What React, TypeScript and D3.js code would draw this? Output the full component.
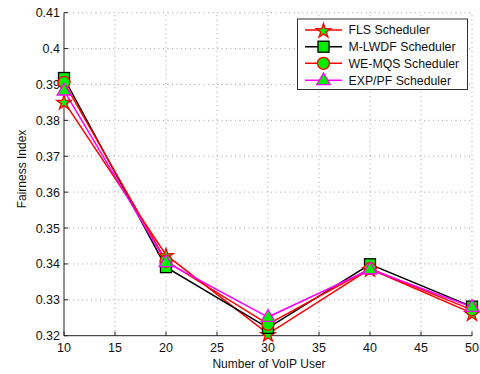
import React from "react";
import * as d3 from "d3";

const users = [10, 20, 30, 40, 50];
const flsValues = [0.3852, 0.3425, 0.3205, 0.3386, 0.3263];
const mlwdfValues = [0.3918, 0.3391, 0.3222, 0.3399, 0.3281];
const wemqsValues = [0.3906, 0.3408, 0.3232, 0.3387, 0.3272];
const exppfValues = [0.3883, 0.3405, 0.3252, 0.3385, 0.328];
const seriesNames = ["FLS Scheduler", "M-LWDF Scheduler", "WE-MQS Scheduler", "EXP/PF Scheduler"];
const xTicks = [10, 15, 20, 25, 30, 35, 40, 45, 50];
const yTicks = [0.32, 0.33, 0.34, 0.35, 0.36, 0.37, 0.38, 0.39, 0.4, 0.41];

const W = 480, H = 374;
const L = 64, R = 472, T = 12.7, B = 335.7;
const FONT = "'Liberation Sans', Arial, sans-serif";

type Kind = "star" | "square" | "circle" | "triangle";
const styles: { line: string; kind: Kind; stroke: string }[] = [
  { line: "#ff0000", kind: "star", stroke: "#ff0000" },
  { line: "#000000", kind: "square", stroke: "#000000" },
  { line: "#ff0000", kind: "circle", stroke: "#ff0000" },
  { line: "#ff00ff", kind: "triangle", stroke: "#ff00ff" },
];
const allValues = [flsValues, mlwdfValues, wemqsValues, exppfValues];

function Marker({ kind, x, y, stroke }: { kind: Kind; x: number; y: number; stroke: string }) {
  const fill = "#00ee00";
  if (kind === "square") {
    return <rect x={x - 5.5} y={y - 5.5} width={11} height={11} fill={fill} stroke={stroke} strokeWidth={1.3} />;
  }
  if (kind === "circle") {
    return <circle cx={x} cy={y} r={6} fill={fill} stroke={stroke} strokeWidth={1.3} />;
  }
  if (kind === "triangle") {
    const s = d3.symbol(d3.symbolTriangle, 80)() as string;
    return <path d={s} transform={`translate(${x},${y + 0.5})`} fill={fill} stroke={stroke} strokeWidth={1.3} />;
  }
  const s = d3.symbol(d3.symbolStar, 65)() as string;
  return <path d={s} transform={`translate(${x},${y + 1})`} fill={fill} stroke={stroke} strokeWidth={1.3} />;
}

export default function App() {
  const x = d3.scaleLinear().domain([10, 50]).range([L, R]);
  const y = d3.scaleLinear().domain([0.32, 0.41]).range([B, T]);
  const line = d3
    .line<number>()
    .x((_, i) => x(users[i]))
    .y((d) => y(d));

  const legX = 297.5, legY = 19, legW = 170, legH = 70.5;
  const rowY = [30, 46.7, 63.3, 80.3];

  return (
    <svg width={W} height={H} style={{ position: "absolute", left: 0, top: 0, background: "#fff" }}>
      {/* grid */}
      <g stroke="#999999" strokeWidth={0.9} strokeDasharray="1,3.5">
        {xTicks.slice(1).map((t) => (
          <line key={"gx" + t} x1={x(t)} x2={x(t)} y1={B} y2={T} />
        ))}
        {yTicks.slice(1).map((t) => (
          <line key={"gy" + t} x1={L} x2={R} y1={y(t)} y2={y(t)} />
        ))}
      </g>
      {/* axes */}
      <line x1={L} x2={L} y1={T} y2={B} stroke="#222" strokeWidth={1} />
      <line x1={L} x2={R} y1={B} y2={B} stroke="#222" strokeWidth={1} />
      {yTicks.map((t) => (
        <g key={"yt" + t}>
          <line x1={L} x2={L + 4} y1={y(t)} y2={y(t)} stroke="#222" />
          <text x={L - 4} y={y(t) + 4.5} textAnchor="end" fontFamily={FONT} fontSize={12.5} fill="#111">
            {d3.format("")(+t.toFixed(2))}
          </text>
        </g>
      ))}
      {xTicks.map((t) => (
        <g key={"xt" + t}>
          <line x1={x(t)} x2={x(t)} y1={B} y2={B - 4} stroke="#222" />
          <text x={x(t)} y={352} textAnchor="middle" fontFamily={FONT} fontSize={12.5} fill="#111">
            {t}
          </text>
        </g>
      ))}
      <text x={269} y={368} textAnchor="middle" fontFamily={FONT} fontSize={12} fill="#111">
        Number of VoIP User
      </text>
      <text
        transform={`translate(26,169) rotate(-90)`}
        textAnchor="middle"
        fontFamily={FONT}
        fontSize={12}
        fill="#111"
      >
        Fairness Index
      </text>
      {/* series */}
      {allValues.map((vals, si) => (
        <path key={"l" + si} d={line(vals) as string} fill="none" stroke={styles[si].line} strokeWidth={1.5} />
      ))}
      {allValues.map((vals, si) => (
        <g key={"m" + si}>
          {vals.map((v, i) => (
            <Marker key={i} kind={styles[si].kind} x={x(users[i])} y={y(v)} stroke={styles[si].stroke} />
          ))}
        </g>
      ))}
      {/* legend */}
      <rect x={legX} y={legY} width={legW} height={legH} fill="#fff" stroke="#333" strokeWidth={1} />
      {seriesNames.map((name, i) => (
        <g key={"lg" + i}>
          <line x1={305} x2={342} y1={rowY[i]} y2={rowY[i]} stroke={styles[i].line} strokeWidth={1.5} />
          <Marker kind={styles[i].kind} x={323.5} y={rowY[i]} stroke={styles[i].stroke} />
          <text x={348.5} y={rowY[i] + 4.3} fontFamily={FONT} fontSize={12.3} fill="#111">
            {name}
          </text>
        </g>
      ))}
    </svg>
  );
}
